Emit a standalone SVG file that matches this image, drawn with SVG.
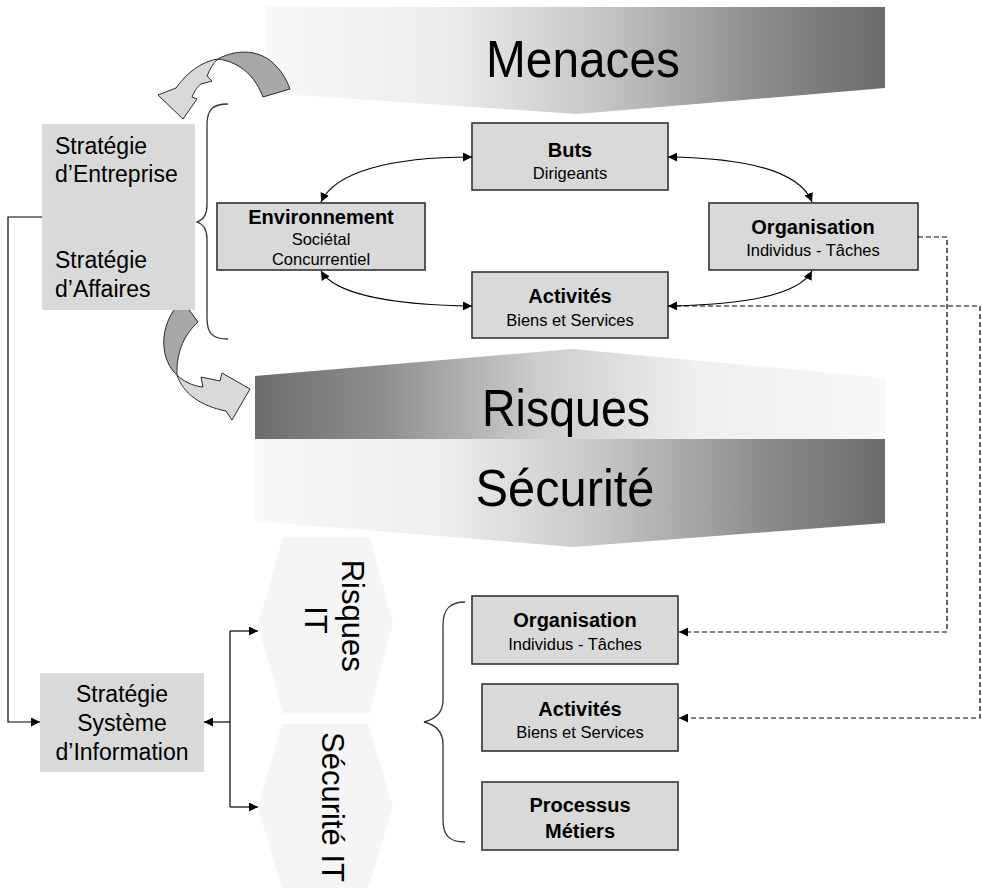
<svg xmlns="http://www.w3.org/2000/svg" width="982" height="890" viewBox="0 0 982 890">
  <defs>
    <linearGradient id="gMenaces" x1="265" y1="0" x2="885" y2="0" gradientUnits="userSpaceOnUse">
      <stop offset="0" stop-color="#f8f8f8"/>
      <stop offset="0.3" stop-color="#ececec"/>
      <stop offset="0.55" stop-color="#c4c4c4"/>
      <stop offset="0.8" stop-color="#8c8c8c"/>
      <stop offset="1" stop-color="#6a6a6a"/>
    </linearGradient>
    <linearGradient id="gRisques" x1="255" y1="0" x2="885" y2="0" gradientUnits="userSpaceOnUse">
      <stop offset="0" stop-color="#6c6c6c"/>
      <stop offset="0.2" stop-color="#8e8e8e"/>
      <stop offset="0.45" stop-color="#cdcdcd"/>
      <stop offset="0.7" stop-color="#efefef"/>
      <stop offset="1" stop-color="#f8f8f8"/>
    </linearGradient>
    <linearGradient id="gSecurite" x1="255" y1="0" x2="885" y2="0" gradientUnits="userSpaceOnUse">
      <stop offset="0" stop-color="#f8f8f8"/>
      <stop offset="0.3" stop-color="#eeeeee"/>
      <stop offset="0.55" stop-color="#c6c6c6"/>
      <stop offset="0.8" stop-color="#8e8e8e"/>
      <stop offset="1" stop-color="#6a6a6a"/>
    </linearGradient>
    <marker id="arr" viewBox="0 0 10 10" refX="10" refY="5" markerWidth="9" markerHeight="9" markerUnits="userSpaceOnUse" orient="auto-start-reverse">
      <path d="M0,0 L10,5 L0,10 Z" fill="#000"/>
    </marker>
  </defs>
  <style>
    .box { fill: #d9d9d9; stroke: #333333; stroke-width: 1.6; }
    .side { fill: #d9d9d9; }
    .hex { fill: #f5f5f5; }
    .t { font-family: "Liberation Sans", Arial, sans-serif; fill: #000; }
    .b { font-weight: bold; font-size: 20px; text-anchor: middle; }
    .s { font-size: 16.5px; text-anchor: middle; }
    .side-t { font-size: 23px; }
    .big { font-size: 52px; text-anchor: middle; }
    .vert { font-size: 31px; text-anchor: middle; }
    .line { fill: none; stroke: #000; stroke-width: 1.2; }
    .dash { fill: none; stroke: #000; stroke-width: 1.2; stroke-dasharray: 5 3; }
    .brace { fill: none; stroke: #333; stroke-width: 1.3; }
    .fold-dark { fill: #a8a8a8; stroke: #2a2a2a; stroke-width: 1; }
    .fold-light { fill: #d9d9d9; stroke: #2a2a2a; stroke-width: 1; }
  </style>

  <rect width="982" height="890" fill="#ffffff"/>

  <!-- Menaces banner -->
  <g id="menaces">
    <path d="M265,7 L885,7 L885,88 L577,114 L265,93 Z" fill="url(#gMenaces)"/>
    <text class="t big" x="583" y="77" textLength="194" lengthAdjust="spacingAndGlyphs">Menaces</text>
  </g>

  <!-- Risques / Sécurité bands -->
  <g id="risques">
    <path d="M255,376 L572,349 L885,378 L885,439 L255,439 Z" fill="url(#gRisques)"/>
    <text class="t big" x="566" y="426" textLength="168" lengthAdjust="spacingAndGlyphs">Risques</text>
  </g>
  <g id="securite">
    <path d="M255,439 L885,439 L885,523 L573,547 L255,521 Z" fill="url(#gSecurite)"/>
    <text class="t big" x="565" y="506" textLength="179" lengthAdjust="spacingAndGlyphs">Sécurité</text>
  </g>

  <!-- folded curved arrows -->
  <g id="fold-top">
    <path class="fold-dark" d="M218,59 C238,48 262,50 276,66 C283,73 287,81 290,89 L263,97 C258,84 250,73 240,67 C232,62 225,60 218,59 Z"/>
    <path class="fold-light" d="M218,59 C203,61 187,72 176,88 L158,95 L183,119 L197,99 L192,97 C195,90 198,86 201,84 L212,81 L207,76 C210,69 213,63 218,59 Z"/>
  </g>
  <g id="fold-bottom">
    <path class="fold-dark" d="M182,300 L198,322 C186,333 176,350 177,375 C162,362 155,328 182,300 Z"/>
    <path class="fold-light" d="M177,375 C183,393 200,406 226,411 L232,420 L250,389 L222,373 L220,381 L201,377 L203,387 C192,386 183,381 177,375 Z"/>
  </g>

  <!-- strategy blocks -->
  <g id="strategie-entreprise">
    <rect class="side" x="42" y="124" width="153" height="186"/>
    <text class="t side-t" x="55" y="154">Stratégie</text>
    <text class="t side-t" x="55" y="182">d’Entreprise</text>
    <text class="t side-t" x="55" y="268">Stratégie</text>
    <text class="t side-t" x="55" y="297">d’Affaires</text>
  </g>
  <path class="brace" d="M228,104 C212,104 207,110 207,125 L207,205 C207,215 203,220 197,222 C203,224 207,229 207,239 L207,318 C207,333 212,339 228,339"/>

  <g id="strategie-si">
    <rect class="side" x="40" y="673" width="164" height="99"/>
    <text class="t side-t" x="122" y="702" text-anchor="middle">Stratégie</text>
    <text class="t side-t" x="122" y="731" text-anchor="middle">Système</text>
    <text class="t side-t" x="122" y="760" text-anchor="middle">d’Information</text>
  </g>

  <!-- top cycle -->
  <g id="buts">
    <rect class="box" x="472" y="123" width="196" height="67"/>
    <text class="t b" x="570" y="157">Buts</text>
    <text class="t s" x="570" y="179">Dirigeants</text>
  </g>
  <g id="environnement">
    <rect class="box" x="217" y="203" width="208" height="67"/>
    <text class="t b" x="321" y="224">Environnement</text>
    <text class="t s" x="321" y="245">Sociétal</text>
    <text class="t s" x="321" y="265">Concurrentiel</text>
  </g>
  <g id="organisation">
    <rect class="box" x="709" y="203" width="209" height="67"/>
    <text class="t b" x="813" y="234">Organisation</text>
    <text class="t s" x="813" y="256">Individus - Tâches</text>
  </g>
  <g id="activites">
    <rect class="box" x="472" y="272" width="196" height="66"/>
    <text class="t b" x="570" y="303">Activités</text>
    <text class="t s" x="570" y="326">Biens et Services</text>
  </g>

  <!-- IT hexagons -->
  <g id="risques-it">
    <path class="hex" d="M283,537 L370,537 L393,623 L370,713 L283,713 L258,625 Z"/>
    <text class="t vert" transform="translate(342,620) rotate(90)">
      <tspan x="0" y="0">Risques</tspan>
      <tspan x="0" y="37">IT</tspan>
    </text>
  </g>
  <g id="securite-it">
    <path class="hex" d="M282,724 L368,724 L393,807 L368,888 L282,888 L258,807 Z"/>
    <text class="t vert" transform="translate(322,807) rotate(90)">Sécurité IT</text>
  </g>

  <!-- IT scope -->
  <path class="brace" d="M465,602 C449,602 443,610 443,625 L443,700 C443,712 436,719 424,722 C436,725 443,732 443,744 L443,820 C443,835 449,842 465,842"/>
  <g id="organisation-it">
    <rect class="box" x="472" y="596" width="206" height="68"/>
    <text class="t b" x="575" y="627">Organisation</text>
    <text class="t s" x="575" y="650">Individus - Tâches</text>
  </g>
  <g id="activites-it">
    <rect class="box" x="482" y="684" width="196" height="67"/>
    <text class="t b" x="580" y="716">Activités</text>
    <text class="t s" x="580" y="738">Biens et Services</text>
  </g>
  <g id="processus">
    <rect class="box" x="482" y="782" width="196" height="68"/>
    <text class="t b" x="580" y="812">Processus</text>
    <text class="t b" x="580" y="838">Métiers</text>
  </g>

  <!-- connectors -->
  <g id="connectors">
    <path class="line" d="M472,157 C390,157 335,172 321,202" marker-start="url(#arr)" marker-end="url(#arr)"/>
    <path class="line" d="M668,157 C750,158 800,172 812,202" marker-start="url(#arr)" marker-end="url(#arr)"/>
    <path class="line" d="M321,271 C336,296 400,305 472,306" marker-start="url(#arr)" marker-end="url(#arr)"/>
    <path class="line" d="M812,271 C798,296 740,305 668,306" marker-start="url(#arr)" marker-end="url(#arr)"/>

    <path class="dash" d="M918,237 L947,237 L947,632 L679,632" marker-end="url(#arr)"/>
    <path class="dash" d="M668,306 L980,306 L980,718 L679,718" marker-end="url(#arr)"/>

    <path class="line" d="M42,217 L8,217 L8,722 L40,722" marker-end="url(#arr)"/>
    <path class="line" d="M230,722 L204,722" marker-end="url(#arr)"/>
    <path class="line" d="M230,631 L230,807"/>
    <path class="line" d="M230,631 L258,631" marker-end="url(#arr)"/>
    <path class="line" d="M230,807 L258,807" marker-end="url(#arr)"/>
  </g>
</svg>
